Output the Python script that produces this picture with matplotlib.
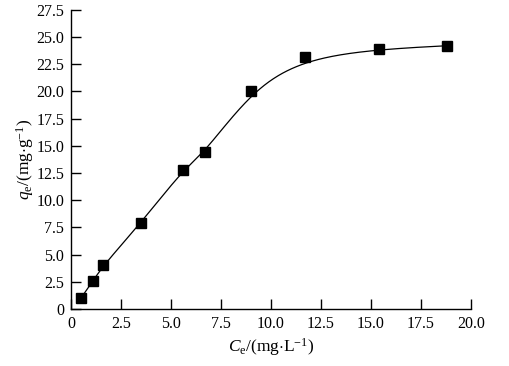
import numpy as np
import matplotlib
matplotlib.use("Agg")
import matplotlib.pyplot as plt
from matplotlib.ticker import FuncFormatter, MultipleLocator

plt.rcParams['font.family'] = ['Liberation Serif', 'DejaVu Serif']
plt.rcParams['mathtext.fontset'] = 'custom'
plt.rcParams['mathtext.rm'] = 'Liberation Serif'
plt.rcParams['mathtext.it'] = 'Liberation Serif:italic'

ce = [0.5, 1.1, 1.6, 3.5, 5.6, 6.7, 9.0, 11.7, 15.4, 18.8]
qe = [1.0, 2.6, 4.0, 7.9, 12.8, 14.4, 20.0, 23.2, 23.9, 24.2]


def bspline(px, py, deg=3, num=500):
    """Clamped B-spline using the data points as control points (Origin 'B-Spline' connection)."""
    P = np.column_stack([px, py]).astype(float)
    n = len(P)
    inner = np.arange(1, n - deg)
    knots = np.concatenate([np.zeros(deg + 1), inner, np.full(deg + 1, n - deg)]).astype(float)
    t = np.linspace(0, n - deg, num)
    t[-1] -= 1e-9
    N = np.zeros((num, len(knots) - 1))
    for i in range(len(knots) - 1):
        N[:, i] = ((t >= knots[i]) & (t < knots[i + 1])).astype(float)
    for k in range(1, deg + 1):
        Nn = np.zeros((num, len(knots) - 1 - k))
        for i in range(len(knots) - 1 - k):
            a = knots[i + k] - knots[i]
            b = knots[i + k + 1] - knots[i + 1]
            term = 0
            if a > 0:
                term = term + (t - knots[i]) / a * N[:, i]
            if b > 0:
                term = term + (knots[i + k + 1] - t) / b * N[:, i + 1]
            Nn[:, i] = term
        N = Nn
    C = N @ P
    return C[:, 0], C[:, 1]


fig = plt.figure(figsize=(5.09, 3.66), dpi=100)
ax = fig.add_axes([0.1395, 0.156, 0.7855, 0.817])

bx, by = bspline(ce, qe)
ax.plot(bx, by, color='black', lw=0.9, zorder=2)
ax.plot(ce, qe, 's', color='black', markersize=6.5, zorder=3, clip_on=False)

ax.set_xlim(0, 20)
ax.set_ylim(0, 27.5)
ax.xaxis.set_major_locator(MultipleLocator(2.5))
ax.yaxis.set_major_locator(MultipleLocator(2.5))
fmt = FuncFormatter(lambda v, p: '0' if abs(v) < 1e-9 else f'{v:.1f}')
ax.xaxis.set_major_formatter(fmt)
ax.yaxis.set_major_formatter(fmt)

for s in ['top', 'right']:
    ax.spines[s].set_visible(False)
for s in ['left', 'bottom']:
    ax.spines[s].set_linewidth(1.0)
ax.tick_params(direction='in', length=7, width=1.0, labelsize=11.5, pad=5)

ax.set_xlabel(r'$C_{\mathrm{e}}$/(mg$\cdot$L$^{-1}$)', fontsize=12.5, labelpad=3)
ax.set_ylabel(r'$q_{\mathrm{e}}$/(mg$\cdot$g$^{-1}$)', fontsize=12.5, labelpad=0)

fig.savefig('out.png', dpi=100)
